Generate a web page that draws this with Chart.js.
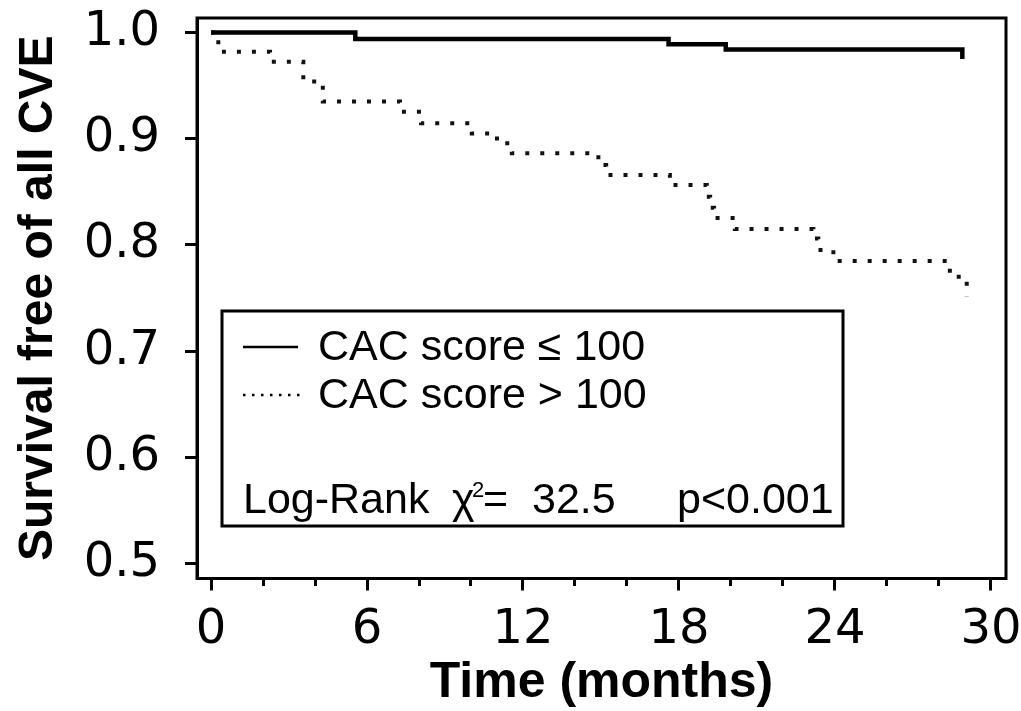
<!DOCTYPE html>
<html><head><meta charset="utf-8">
<script src="https://cdn.jsdelivr.net/npm/chart.js@4.4.1/dist/chart.umd.min.js"></script>
<style>html,body{margin:0;padding:0;background:#fff;} canvas{display:block;}</style>
</head><body>
<canvas id="c" width="1021" height="711"></canvas>
<script>
// ---- Data ----
const lowTimes     = [0, 5.55, 17.6, 19.8, 28.9];
const lowSurvival  = [1.0, 0.994, 0.989, 0.984, 0.975];

const highTimes    = [0, 0.28, 2.27, 3.55, 4.3, 7.27, 8.08, 10.03, 11.0, 11.57, 14.9, 15.2, 17.65, 19.07, 19.2, 19.35, 20.15, 23.17, 23.36, 23.94, 28.42, 29.07];
const highSurvival = [1.0, 0.982, 0.9725, 0.954, 0.935, 0.9255, 0.9145, 0.905, 0.8957, 0.8863, 0.8752, 0.8658, 0.8564, 0.8454, 0.835, 0.8254, 0.815, 0.806, 0.7952, 0.785, 0.770, 0.751];

const seriesNames  = ['CAC score \u2264 100', 'CAC score > 100'];
const xTickValues  = [0, 2, 4, 6, 8, 10, 12, 14, 16, 18, 20, 22, 24, 26, 28, 30];
const xLabelStep   = 6;
const yTickValues  = [0.5, 0.6, 0.7, 0.8, 0.9, 1.0];
const xTitle       = 'Time (months)';
const yTitle       = 'Survival free of all CVE';
const statLabel    = 'Log-Rank';
const statChi      = '\u03C7';
const statSup      = '2';
const statEq       = '=';
const statValue    = '32.5';
const statP        = 'p<0.001';

const toPoints = (xs, ys) => xs.map((x, i) => ({x: x, y: ys[i]}));

const frameAndLegend = {
  id: 'frameAndLegend',
  afterDraw(chart) {
    const ctx = chart.ctx, a = chart.chartArea;
    ctx.save();
    ctx.strokeStyle = '#000';
    ctx.lineWidth = 3;
    ctx.strokeRect(a.left, a.top, a.right - a.left, a.bottom - a.top);

    // legend box
    const bx = a.left + 25, by = a.top + 293, bw = 621, bh = 215;
    ctx.strokeRect(bx, by, bw, bh);
    const ds = chart.data.datasets;
    const f = '43px "Liberation Sans"';
    ctx.fillStyle = '#000';
    ctx.font = f;
    ctx.textBaseline = 'alphabetic';
    ctx.textAlign = 'left';
    // row 1 - solid
    ctx.beginPath(); ctx.setLineDash([]); ctx.lineWidth = 2.5;
    ctx.moveTo(bx + 21, by + 36); ctx.lineTo(bx + 76, by + 36); ctx.stroke();
    ctx.fillText(ds[0].label, bx + 96, by + 49);
    // row 2 - dotted
    ctx.beginPath(); ctx.setLineDash([2.5, 6.5]); ctx.lineWidth = 2.5;
    ctx.moveTo(bx + 21, by + 84); ctx.lineTo(bx + 78, by + 84); ctx.stroke();
    ctx.setLineDash([]);
    ctx.fillText(ds[1].label, bx + 96, by + 97);
    // row 3 - statistics
    ctx.fillText(statLabel, bx + 21, by + 202);
    ctx.fillText(statChi, bx + 230, by + 202);
    ctx.font = '22px "Liberation Sans"';
    ctx.fillText(statSup, bx + 250, by + 186);
    ctx.font = f;
    ctx.fillText(statEq, bx + 261, by + 202);
    ctx.fillText(statValue, bx + 310, by + 202);
    ctx.fillText(statP, bx + 455, by + 202);
    ctx.restore();
  }
};

Chart.defaults.color = '#000';

const noScalePadding = s => { s.paddingTop = 0; s.paddingBottom = 0; s.paddingLeft = 0; s.paddingRight = 0; };

new Chart(document.getElementById('c'), {
  type: 'line',
  data: {
    datasets: [
      {
        label: seriesNames[0],
        data: toPoints(lowTimes, lowSurvival),
        borderColor: '#000',
        borderWidth: 4.5,
        stepped: true,
        pointRadius: 0,
        fill: false
      },
      {
        label: seriesNames[1],
        data: toPoints(highTimes, highSurvival),
        borderColor: '#111',
        borderWidth: 4,
        borderDash: [4, 11],
        stepped: true,
        pointRadius: 0,
        fill: false
      }
    ]
  },
  options: {
    responsive: false,
    animation: false,
    layout: {padding: {top: 18, right: 15, left: 0, bottom: 0}},
    plugins: {legend: {display: false}, tooltip: {enabled: false}},
    scales: {
      x: {
        type: 'linear',
        min: -0.54,
        max: 30.58,
        afterBuildTicks: s => { s.ticks = xTickValues.map(v => ({value: v})); },
        afterFit: s => { s.height = 132.5; noScalePadding(s); },
        ticks: {
          autoSkip: false,
          maxRotation: 0,
          padding: 11,
          font: {family: 'DejaVu Sans', size: 48, lineHeight: 1.2},
          callback: v => (v % xLabelStep === 0 ? String(v) : '')
        },
        grid: {
          drawOnChartArea: false,
          drawTicks: true,
          tickLength: 12,
          tickWidth: 3,
          tickColor: '#000',
          tickBorderDash: c => (c.tick && c.tick.value % xLabelStep === 0 ? [] : [6, 30])
        },
        border: {display: true, color: '#000', width: 3},
        title: {
          display: true,
          text: xTitle,
          font: {family: 'Liberation Sans', weight: 'bold', size: 50, lineHeight: 1},
          padding: {top: 0, bottom: 3}
        }
      },
      y: {
        type: 'linear',
        min: 0.486,
        max: 1.0137,
        afterBuildTicks: s => { s.ticks = yTickValues.map(v => ({value: v})); },
        afterFit: s => { s.width = 197; noScalePadding(s); },
        ticks: {
          padding: 25,
          font: {family: 'DejaVu Sans', size: 48, lineHeight: 1.2},
          callback: v => Number(v).toFixed(1)
        },
        grid: {
          drawOnChartArea: false,
          drawTicks: true,
          tickLength: 12,
          tickWidth: 3,
          tickColor: '#000'
        },
        border: {display: true, color: '#000', width: 3},
        title: {
          display: true,
          text: yTitle,
          font: {family: 'Liberation Sans', weight: 'bold', size: 48, lineHeight: 1},
          padding: {top: 15, bottom: 0}
        }
      }
    }
  },
  plugins: [frameAndLegend]
});
</script>
</body></html>
